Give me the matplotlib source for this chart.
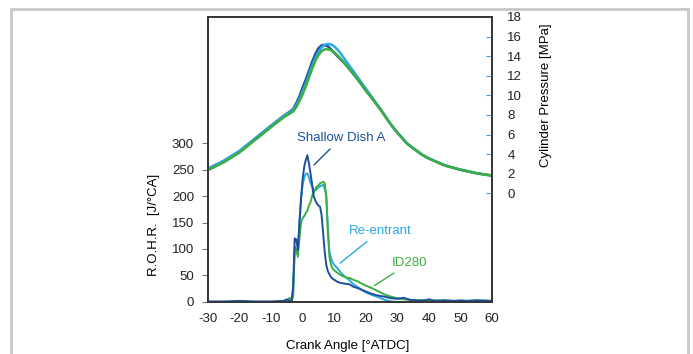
import matplotlib.pyplot as plt
from matplotlib.patches import Rectangle

plt.rcParams['font.family'] = ['Liberation Sans', 'DejaVu Sans']
plt.rcParams['font.size'] = 9.5
plt.rcParams['axes.unicode_minus'] = False

# crank angle grid for heat release rate
ca_rohr = [-30, -25, -20, -15, -10, -6, -5, -4, -3.5, -3, -2.5, -2, -1.5, -1, -0.5,
           0, 0.5, 1, 1.5, 2, 2.5, 3, 3.5, 4, 4.5, 5, 5.5, 6, 6.5, 7, 7.5, 8, 8.5,
           9, 9.5, 10, 11, 12, 13, 14, 15, 16, 17, 18, 19, 20, 22, 24, 26, 28, 30,
           32, 34, 36, 38, 40, 42, 45, 48, 50, 52, 55, 58, 60]

rohr_shallow = [1, 1, 2, 1, 1, 2, 5, 2, 0, 30, 120, 118, 98, 150, 195,
                232, 255, 268, 277, 262, 243, 222, 200, 192, 186, 182, 180, 165, 130, 95, 70, 58, 52,
                47, 44, 42, 38, 36, 35, 34, 33, 29, 27, 25, 22, 20, 15, 12, 10, 7, 6,
                8, 4, 3, 2, 5, 2, 3, 2, 3, 2, 3, 2, 2]

rohr_reentrant = [0, 0, 0, 0, 0, 0, 2, 1, 0, 25, 95, 92, 100, 150, 195,
                  220, 235, 242, 243, 235, 225, 218, 212, 211, 213, 216, 218, 220, 221, 214, 200, 140, 95,
                  82, 75, 70, 64, 56, 50, 45, 40, 34, 30, 26, 22, 18, 13, 9, 4, 1, 0,
                  0, 0, 0, 0, 0, 0, 0, 0, 0, 0, 0, 0, 0]

rohr_id280 = [0, 0, 0, 0, 0, 1, 3, 8, 2, 10, 104, 100, 85, 120, 150,
              158, 162, 168, 172, 182, 188, 200, 206, 212, 218, 220, 224, 225, 227, 224, 200, 130, 85,
              70, 63, 60, 55, 51, 48, 46, 45, 42, 40, 37, 34, 31, 26, 20, 14, 10, 7,
              5, 4, 3, 4, 2, 3, 3, 2, 2, 2, 3, 3, 2]

# crank angle grid for cylinder pressure
ca_p = [-30, -25, -20, -15, -10, -8, -6, -4, -3, -2, -1, 0, 1, 2, 3, 4, 5, 6, 7, 8, 9,
        10, 11, 12, 14, 16, 18, 20, 22, 25, 28, 30, 33, 35, 38, 40, 45, 50, 55, 60]

p_shallow = [2.5, 3.3, 4.3, 5.6, 6.9, 7.4, 7.9, 8.35, 8.6, 9.2, 9.9, 10.8, 11.6, 12.5, 13.4, 14.2, 14.8, 15.1, 15.15, 15.0, 14.7,
             14.35, 14.0, 13.7, 13.0, 12.2, 11.4, 10.5, 9.7, 8.4, 7.0, 6.2, 5.1, 4.6, 3.9, 3.55, 2.85, 2.4, 2.05, 1.8]

p_reentrant = [2.5, 3.3, 4.3, 5.6, 6.9, 7.4, 7.9, 8.3, 8.5, 9.0, 9.6, 10.4, 11.2, 12.1, 13.0, 13.8, 14.4, 14.9, 15.15, 15.25, 15.2,
               15.0, 14.7, 14.3, 13.4, 12.5, 11.6, 10.7, 9.8, 8.45, 7.0, 6.2, 5.1, 4.6, 3.9, 3.55, 2.85, 2.4, 2.05, 1.8]

p_id280 = [2.35, 3.15, 4.15, 5.45, 6.75, 7.25, 7.75, 8.15, 8.35, 8.8, 9.4, 10.1, 10.9, 11.8, 12.7, 13.5, 14.1, 14.5, 14.7, 14.7, 14.6,
           14.4, 14.1, 13.75, 13.0, 12.2, 11.4, 10.5, 9.7, 8.4, 7.0, 6.2, 5.1, 4.6, 3.9, 3.55, 2.85, 2.4, 2.05, 1.8]

c_shallow = '#1d4f9e'
c_reentrant = '#2aa8e2'
c_id280 = '#3cae3f'

fig = plt.figure(figsize=(6.93, 3.54), dpi=100)
fig.patches.append(Rectangle((0.016, -0.1), 0.977, 1.075, transform=fig.transFigure,
                             fill=False, edgecolor='#c8c8c8', linewidth=2))

ax = fig.add_axes([0.300, 0.147, 0.410, 0.805])
ax2 = ax.twinx()

ax.plot(ca_rohr, rohr_shallow, color=c_shallow, lw=1.4, zorder=3)
ax.plot(ca_rohr, rohr_reentrant, color=c_reentrant, lw=1.4, zorder=2)
ax.plot(ca_rohr, rohr_id280, color=c_id280, lw=1.4, zorder=2.5)

ax2.plot(ca_p, p_shallow, color=c_shallow, lw=1.8)
ax2.plot(ca_p, p_reentrant, color=c_reentrant, lw=1.8)
ax2.plot(ca_p, p_id280, color=c_id280, lw=1.8)

ax.set_xlim(-30, 60)
ax.set_ylim(0, 538)
ax2.set_ylim(-11.1, 18)
ax.set_xticks(range(-30, 61, 10))
ax.set_yticks(range(0, 301, 50))
ax2.set_yticks(range(0, 19, 2))

for sp in list(ax.spines.values()) + list(ax2.spines.values()):
    sp.set_color('#333333')
    sp.set_linewidth(1.2)

ax.tick_params(axis='x', length=0, pad=8, colors='#222222')
ax.tick_params(axis='y', direction='out', length=4, pad=6, color='#777777', labelcolor='#222222')
ax2.tick_params(axis='y', direction='in', length=4, pad=11, color='#5b9bd5', labelcolor='#222222')

ax.set_xlabel('Crank Angle [°ATDC]')
ax.xaxis.set_label_coords(0.493, -0.133)
ax.set_ylabel('R.O.H.R.  [J/°CA]')
ax.yaxis.set_label_coords(-0.169, 0.27)
ax2.set_ylabel('Cylinder Pressure [MPa]')
ax2.yaxis.set_label_coords(1.169, 0.726)

ax.annotate('Shallow Dish A', xy=(3.0, 255), xytext=(12.1, 309), color=c_shallow,
            ha='center', va='center', arrowprops=dict(arrowstyle='-', color=c_shallow, lw=1))
ax.annotate('Re-entrant', xy=(11.2, 70), xytext=(24.5, 134), color=c_reentrant,
            ha='center', va='center', arrowprops=dict(arrowstyle='-', color=c_reentrant, lw=1))
ax.annotate('ID280', xy=(22.0, 28), xytext=(34.0, 74), color=c_id280,
            ha='center', va='center', arrowprops=dict(arrowstyle='-', color=c_id280, lw=1))

fig.savefig('out.png', dpi=100)
